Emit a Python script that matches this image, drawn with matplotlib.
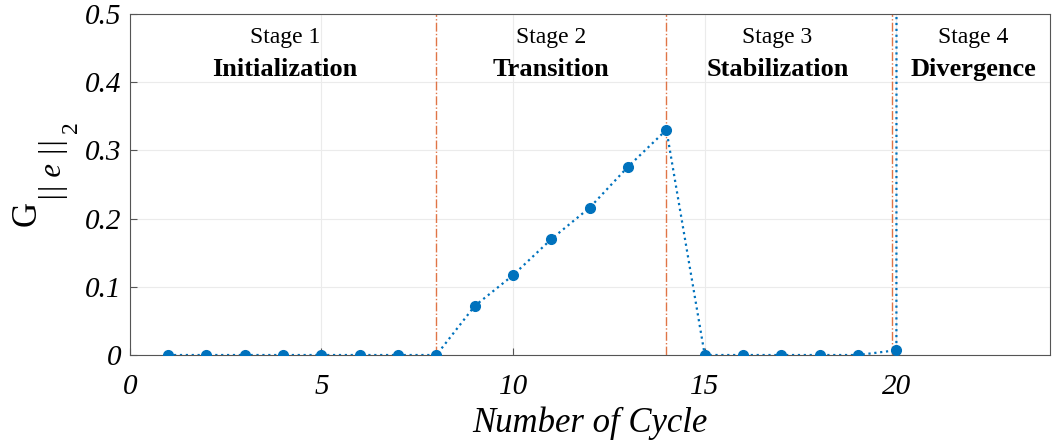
import numpy as np
import matplotlib.pyplot as plt

plt.rcParams['font.family'] = 'Liberation Serif'
plt.rcParams['mathtext.fontset'] = 'custom'
plt.rcParams['mathtext.rm'] = 'Liberation Serif'
plt.rcParams['mathtext.it'] = 'Liberation Serif:italic'

# data
cycles = [1, 2, 3, 4, 5, 6, 7, 8, 9, 10, 11, 12, 13, 14, 15, 16, 17, 18, 19, 20, 21]
gnorm = [0, 0, 0, 0, 0, 0, 0, 0, 0.072, 0.117, 0.170, 0.216, 0.276, 0.330,
         0, 0, 0, 0, 0, 0.007, 200.0]
stage_bounds = [8, 14, 19.88]
stage_names = ['Stage 1', 'Stage 2', 'Stage 3', 'Stage 4']
stage_titles = ['Initialization', 'Transition', 'Stabilization', 'Divergence']
stage_x = [4.05, 11.0, 16.9, 22.0]

W, H = 1055, 446
fig = plt.figure(figsize=(W / 100, H / 100), dpi=100)
ax = fig.add_axes([0.123, 0.204, 0.872, 0.765])

ax.plot(cycles, gnorm, ':', color='#0072BD', lw=1.6, marker='o', ms=7, zorder=3)
for b in stage_bounds:
    ax.axvline(b, color='#D95319', ls='-.', lw=1.0, alpha=0.8, zorder=2)

for xs, n, t in zip(stage_x, stage_names, stage_titles):
    ax.text(xs, 0.465, n, ha='center', va='center', fontsize=17)
    ax.text(xs, 0.418, t, ha='center', va='center', fontsize=19, fontweight='bold')

ax.set_xlim(0, 24)
ax.set_ylim(0, 0.5)
ax.set_xticks([0, 5, 10, 15, 20])
ax.set_yticks([0, 0.1, 0.2, 0.3, 0.4, 0.5])
ax.set_yticklabels(['0', '0.1', '0.2', '0.3', '0.4', '0.5'])
ax.grid(True, color='#ebebeb', lw=0.8)
ax.set_axisbelow(True)
ax.tick_params(direction='in', labelsize=21, length=5, color='#555555')
ax.tick_params(axis='x', pad=14)
ax.tick_params(axis='y', pad=6)
for lab in ax.get_xticklabels() + ax.get_yticklabels():
    lab.set_fontstyle('italic')
for s in ax.spines.values():
    s.set_color('#555555')

ax.set_xlabel('Number of Cycle', fontsize=25, fontstyle='italic', labelpad=4)

# y label built from pieces: G, || e ||, 2
fig.text(27 / W, 1 - 213 / H, 'G', rotation=90, fontsize=25, ha='center', va='center')
fig.text(54 / W, 1 - 170 / H, '|| e ||', rotation=90, fontsize=22, fontstyle='italic',
         ha='center', va='center')
fig.text(71 / W, 1 - 127 / H, '2', rotation=90, fontsize=17, ha='center', va='center')

fig.savefig('out.png', dpi=100)
